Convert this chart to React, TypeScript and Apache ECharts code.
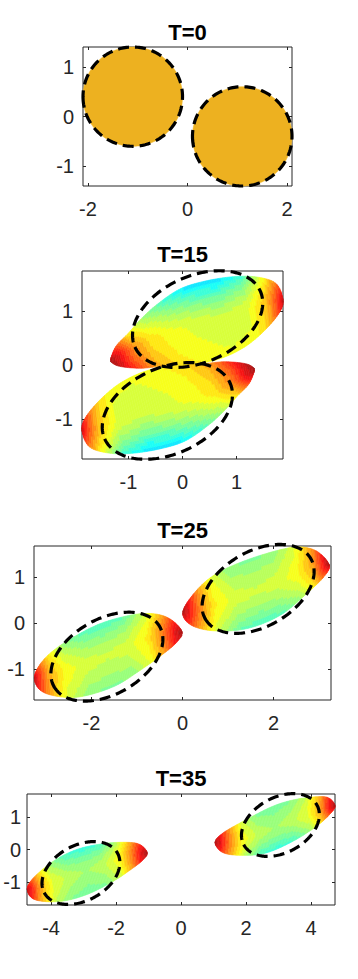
import React, { useEffect, useRef } from "react";
import * as echarts from "echarts";

type Pt = [number, number];

// ---------- DATA ----------
const panelTitles = ["T=0", "T=15", "T=25", "T=35"];
const xRanges: Pt[] = [[-2.1, 2.1], [-1.86, 1.86], [-3.26, 3.26], [-4.74, 4.74]];
const yRanges: Pt[] = [[-1.4, 1.4], [-1.74, 1.74], [-1.67, 1.67], [-1.7, 1.7]];
const xTickValues = [[-2, 0, 2], [-1, 0, 1], [-2, 0, 2], [-4, -2, 0, 2, 4]];
const yTickValues = [[-1, 0, 1], [-1, 0, 1], [-1, 0, 1], [-1, 0, 1]];

// T=0 discs: [cx, cy, r]
const initialDiscs = [[-1.1, 0.4, 1.0], [1.1, -0.4, 1.0]];

// dashed ellipses: [cx, cy, a, b, angleDeg]
const dashedT0 = [[-1.1, 0.4, 1.0, 1.0, 0], [1.1, -0.4, 1.0, 1.0, 0]];
const dashedT15 = [[0.28, 0.85, 1.27, 0.8, 24], [-0.28, -0.85, 1.27, 0.8, 24]];
const dashedT25 = [[1.66, 0.74, 1.33, 0.82, 29], [-1.66, -0.73, 1.33, 0.82, 29]];
const dashedT35 = [[3.06, 0.75, 1.28, 0.85, 28], [-3.08, -0.72, 1.28, 0.85, 28]];

// blob outlines: top and bottom chains, from left tip to right tip
const t15aTop: Pt[] = [[-1.33, 0.1], [-1.23, 0.35], [-1.01, 0.58], [-0.77, 0.85], [-0.46, 1.13], [-0.04, 1.41], [0.45, 1.56], [1.0, 1.64], [1.43, 1.62], [1.74, 1.5], [1.86, 1.2]];
const t15aBottom: Pt[] = [[-1.33, 0.1], [-1.29, 0.03], [-1.14, -0.03], [-0.77, -0.06], [-0.34, -0.02], [0.27, 0.02], [0.76, 0.14], [1.19, 0.36], [1.55, 0.67], [1.8, 0.98], [1.86, 1.2]];
const t15bTop: Pt[] = [[-1.86, -1.2], [-1.8, -0.98], [-1.55, -0.67], [-1.19, -0.36], [-0.76, -0.14], [-0.27, -0.02], [0.34, 0.02], [0.77, 0.06], [1.14, 0.03], [1.29, -0.03], [1.33, -0.1]];
const t15bBottom: Pt[] = [[-1.86, -1.2], [-1.74, -1.5], [-1.43, -1.62], [-1.0, -1.64], [-0.45, -1.56], [0.04, -1.41], [0.46, -1.13], [0.77, -0.85], [1.01, -0.58], [1.23, -0.35], [1.33, -0.1]];

const t25aTop: Pt[] = [[-3.25, -1.17], [-3.05, -0.8], [-2.61, -0.44], [-1.87, -0.04], [-1.14, 0.17], [-0.63, 0.2], [-0.26, 0.08], [-0.01, -0.19]];
const t25aBottom: Pt[] = [[-3.25, -1.17], [-3.12, -1.46], [-2.75, -1.59], [-2.24, -1.6], [-1.51, -1.38], [-0.92, -1.02], [-0.41, -0.66], [-0.12, -0.41], [-0.01, -0.19]];
const t25bTop: Pt[] = [[0.01, 0.25], [0.32, 0.72], [0.76, 1.08], [1.42, 1.37], [2.15, 1.59], [2.59, 1.65], [2.96, 1.55], [3.22, 1.26]];
const t25bBottom: Pt[] = [[0.01, 0.25], [0.18, -0.04], [0.69, -0.17], [1.42, -0.12], [2.15, 0.17], [2.74, 0.65], [3.11, 1.01], [3.22, 1.26]];

const t35aTop: Pt[] = [[-4.73, -1.23], [-4.54, -0.87], [-3.93, -0.36], [-3.21, 0.0], [-2.39, 0.18], [-1.67, 0.22], [-1.26, 0.15], [-1.04, -0.1]];
const t35aBottom: Pt[] = [[-4.73, -1.23], [-4.49, -1.54], [-3.72, -1.59], [-2.9, -1.38], [-2.08, -0.97], [-1.47, -0.56], [-1.16, -0.31], [-1.04, -0.1]];
const t35bTop: Pt[] = [[1.05, 0.21], [1.3, 0.51], [2.02, 0.92], [2.84, 1.33], [3.56, 1.54], [4.28, 1.62], [4.58, 1.56], [4.74, 1.33]];
const t35bBottom: Pt[] = [[1.05, 0.21], [1.3, -0.1], [1.92, -0.18], [2.64, -0.1], [3.46, 0.26], [4.18, 0.72], [4.58, 1.08], [4.74, 1.33]];

// field values (0..1 on jet colormap) along each blob, rows: bottom edge, middle, top edge
const uStops = [-1, -0.85, -0.7, -0.5, -0.25, 0, 0.25, 0.5, 0.7, 0.85, 1];
const fieldT15a = [
  [0.98, 0.93, 0.84, 0.72, 0.65, 0.63, 0.61, 0.61, 0.68, 0.82, 0.95],
  [0.98, 0.9, 0.77, 0.66, 0.61, 0.59, 0.57, 0.59, 0.69, 0.84, 0.97],
  [0.94, 0.8, 0.63, 0.52, 0.42, 0.34, 0.33, 0.42, 0.62, 0.8, 0.93],
];
const fieldT15b = [
  [0.93, 0.8, 0.62, 0.42, 0.33, 0.34, 0.42, 0.52, 0.63, 0.8, 0.94],
  [0.97, 0.84, 0.69, 0.59, 0.57, 0.59, 0.61, 0.66, 0.77, 0.9, 0.98],
  [0.95, 0.82, 0.68, 0.61, 0.61, 0.63, 0.65, 0.72, 0.84, 0.93, 0.98],
];
const fieldT25a = [
  [0.97, 0.87, 0.72, 0.58, 0.5, 0.49, 0.5, 0.6, 0.74, 0.88, 0.96],
  [0.98, 0.86, 0.71, 0.62, 0.58, 0.57, 0.58, 0.64, 0.77, 0.9, 0.98],
  [0.9, 0.78, 0.64, 0.52, 0.45, 0.43, 0.46, 0.57, 0.72, 0.86, 0.95],
];
const fieldT25b = [
  [0.95, 0.86, 0.72, 0.57, 0.46, 0.43, 0.45, 0.52, 0.64, 0.78, 0.9],
  [0.98, 0.9, 0.77, 0.64, 0.58, 0.57, 0.58, 0.62, 0.71, 0.86, 0.98],
  [0.96, 0.88, 0.74, 0.6, 0.5, 0.49, 0.5, 0.58, 0.72, 0.87, 0.97],
];
const fieldT35a = [
  [0.97, 0.86, 0.7, 0.56, 0.49, 0.47, 0.49, 0.58, 0.74, 0.88, 0.96],
  [0.98, 0.88, 0.72, 0.6, 0.55, 0.53, 0.55, 0.62, 0.76, 0.9, 0.98],
  [0.92, 0.8, 0.66, 0.52, 0.43, 0.41, 0.43, 0.55, 0.72, 0.86, 0.95],
];
const fieldT35b = [
  [0.95, 0.86, 0.72, 0.55, 0.43, 0.41, 0.43, 0.52, 0.66, 0.8, 0.92],
  [0.98, 0.9, 0.76, 0.62, 0.55, 0.53, 0.55, 0.6, 0.72, 0.88, 0.98],
  [0.96, 0.88, 0.74, 0.58, 0.49, 0.47, 0.49, 0.56, 0.7, 0.86, 0.97],
];

// ---------- STYLE / LAYOUT ----------
const discColor = "#EDB120";
const axisColor = "#262626";
const fontFamily = '"Liberation Sans", Arial, Helvetica, sans-serif';
const grids = [
  { left: 83, top: 47, width: 209, height: 139 },
  { left: 82, top: 271, width: 201, height: 188 },
  { left: 34, top: 546, width: 297, height: 154 },
  { left: 27, top: 794, width: 308, height: 111 },
];
const yLabelMargins = [9, 9, 9, 6];
const titlePos: Pt[] = [[187.5, 32], [182.5, 254], [182.5, 530], [181, 778]];
const N_COLS = 90;
const N_ROWS = 24;
const N_LEVELS = 30;
const WHITE_MIX = 0.08;
const EDGE_EXP = 1.4;

// ---------- helpers ----------
function catmullLoop(pts: Pt[], sub: number): Pt[] {
  const n = pts.length;
  const out: Pt[] = [];
  for (let i = 0; i < n; i++) {
    const p0 = pts[(i - 1 + n) % n], p1 = pts[i], p2 = pts[(i + 1) % n], p3 = pts[(i + 2) % n];
    for (let s = 0; s < sub; s++) {
      const t = s / sub, t2 = t * t, t3 = t2 * t;
      const f = (a: number, b: number, c: number, d: number) =>
        0.5 * (2 * b + (-a + c) * t + (2 * a - 5 * b + 4 * c - d) * t2 + (-a + 3 * b - 3 * c + d) * t3);
      out.push([f(p0[0], p1[0], p2[0], p3[0]), f(p0[1], p1[1], p2[1], p3[1])]);
    }
  }
  return out;
}

function resample(poly: Pt[], fr: number[]): Pt[] {
  const cum = [0];
  for (let i = 1; i < poly.length; i++) {
    cum.push(cum[i - 1] + Math.hypot(poly[i][0] - poly[i - 1][0], poly[i][1] - poly[i - 1][1]));
  }
  const L = cum[cum.length - 1];
  return fr.map((f) => {
    const s = f * L;
    let i = 1;
    while (i < cum.length - 1 && cum[i] < s) i++;
    const seg = cum[i] - cum[i - 1] || 1;
    const w = Math.max(0, Math.min(1, (s - cum[i - 1]) / seg));
    return [poly[i - 1][0] + (poly[i][0] - poly[i - 1][0]) * w, poly[i - 1][1] + (poly[i][1] - poly[i - 1][1]) * w] as Pt;
  });
}

function blobGeometry(top: Pt[], bottom: Pt[]) {
  const sub = 12;
  const loop = top.concat(bottom.slice(1, -1).reverse());
  const dense = catmullLoop(loop, sub);
  const iB = (top.length - 1) * sub;
  const denseTop = dense.slice(0, iB + 1);
  const denseBot = dense.slice(iB).concat([dense[0]]).reverse();
  const fr = Array.from({ length: N_COLS + 1 }, (_, k) => k / N_COLS);
  return { T: resample(denseTop, fr), B: resample(denseBot, fr) };
}

function interpField(field: number[][], u: number, v: number) {
  const row = (r: number[]) => {
    for (let i = 0; i < uStops.length - 1; i++) {
      if (u <= uStops[i + 1]) {
        const f = (u - uStops[i]) / (uStops[i + 1] - uStops[i]);
        return r[i] + (r[i + 1] - r[i]) * f;
      }
    }
    return r[r.length - 1];
  };
  const b = row(field[0]), m = row(field[1]), t = row(field[2]);
  const w = Math.pow(Math.abs(v), EDGE_EXP);
  return v < 0 ? m + (b - m) * w : m + (t - m) * w;
}

function jet(t: number) {
  const c = (x: number) => Math.max(0, Math.min(1, x));
  const r = c(1.5 - Math.abs(4 * t - 3));
  const g = c(1.5 - Math.abs(4 * t - 2));
  const b = c(1.5 - Math.abs(4 * t - 1));
  const m = (x: number) => Math.round((x * (1 - WHITE_MIX) + WHITE_MIX) * 255);
  return `rgb(${m(r)},${m(g)},${m(b)})`;
}

function levelColor(val: number) {
  const lvl = Math.max(0, Math.min(N_LEVELS - 1, Math.floor(val * N_LEVELS)));
  return jet((lvl + 0.5) / N_LEVELS);
}

type Blob = { top: Pt[]; bottom: Pt[]; field: number[][] };
const panelBlobs: (Blob[] | null)[] = [
  null,
  [
    { top: t15aTop, bottom: t15aBottom, field: fieldT15a },
    { top: t15bTop, bottom: t15bBottom, field: fieldT15b },
  ],
  [
    { top: t25aTop, bottom: t25aBottom, field: fieldT25a },
    { top: t25bTop, bottom: t25bBottom, field: fieldT25b },
  ],
  [
    { top: t35aTop, bottom: t35aBottom, field: fieldT35a },
    { top: t35bTop, bottom: t35bBottom, field: fieldT35b },
  ],
];
const panelDashed = [dashedT0, dashedT15, dashedT25, dashedT35];

function ellipsePoints(e: number[], api: any) {
  const [cx, cy, a, b, ang] = e;
  const th = (ang * Math.PI) / 180;
  const pts: number[][] = [];
  for (let i = 0; i < 200; i++) {
    const t = (i / 200) * 2 * Math.PI + Math.PI;
    const ex = a * Math.cos(t), ey = b * Math.sin(t);
    pts.push(api.coord([cx + ex * Math.cos(th) - ey * Math.sin(th), cy + ex * Math.sin(th) + ey * Math.cos(th)]));
  }
  return pts;
}

function buildOption() {
  const xAxis: any[] = [];
  const yAxis: any[] = [];
  const series: any[] = [];
  const labelStyle = { color: axisColor, fontSize: 20, fontFamily };
  const noLine = { show: false, onZero: false };

  grids.forEach((_, i) => {
    const tickBase = { show: true, inside: true, length: 3, lineStyle: { color: axisColor, width: 1 } };
    xAxis.push({
      gridIndex: i, type: "value", position: "bottom", min: xRanges[i][0], max: xRanges[i][1],
      axisLine: noLine, splitLine: { show: false },
      axisTick: { ...tickBase, customValues: xTickValues[i] },
      axisLabel: { ...labelStyle, margin: 13, customValues: xTickValues[i] },
    });
    xAxis.push({
      gridIndex: i, type: "value", position: "top", min: xRanges[i][0], max: xRanges[i][1],
      axisLine: noLine, splitLine: { show: false },
      axisTick: { ...tickBase, customValues: xTickValues[i] },
      axisLabel: { show: false },
    });
    yAxis.push({
      gridIndex: i, type: "value", position: "left", min: yRanges[i][0], max: yRanges[i][1],
      axisLine: noLine, splitLine: { show: false },
      axisTick: { ...tickBase, customValues: yTickValues[i] },
      axisLabel: { ...labelStyle, margin: yLabelMargins[i], customValues: yTickValues[i] },
    });
    yAxis.push({
      gridIndex: i, type: "value", position: "right", min: yRanges[i][0], max: yRanges[i][1],
      axisLine: noLine, splitLine: { show: false },
      axisTick: { ...tickBase, customValues: yTickValues[i] },
      axisLabel: { show: false },
    });

    const blobs = panelBlobs[i];
    if (blobs === null) {
      series.push({
        type: "custom", xAxisIndex: 2 * i, yAxisIndex: 2 * i, clip: false, silent: true, z: 2,
        data: initialDiscs.map((d) => [d[0], d[1], d[2]]),
        renderItem: (params: any, api: any) => {
          const d = initialDiscs[params.dataIndex];
          return {
            type: "polygon",
            shape: { points: ellipsePoints([d[0], d[1], d[2], d[2], 0], api) },
            style: { fill: discColor, stroke: discColor, lineWidth: 0.5 },
          };
        },
      });
    } else {
      const geos = blobs.map((b) => blobGeometry(b.top, b.bottom));
      series.push({
        type: "custom", xAxisIndex: 2 * i, yAxisIndex: 2 * i, clip: false, silent: true, z: 2,
        data: blobs.map((b) => [b.top[0][0], b.top[0][1]]),
        renderItem: (params: any, api: any) => {
          const blob = blobs[params.dataIndex];
          const { T, B } = geos[params.dataIndex];
          const P = (k: number, j: number) => {
            const f = j / N_ROWS;
            return api.coord([B[k][0] + (T[k][0] - B[k][0]) * f, B[k][1] + (T[k][1] - B[k][1]) * f]);
          };
          const children: any[] = [];
          for (let k = 0; k < N_COLS; k++) {
            const u = ((k + 0.5) / N_COLS) * 2 - 1;
            const colorAt = (j: number) => levelColor(interpField(blob.field, u, ((j + 0.5) / N_ROWS) * 2 - 1));
            let j0 = 0;
            let c0 = colorAt(0);
            for (let j = 1; j <= N_ROWS; j++) {
              const c = j < N_ROWS ? colorAt(j) : "";
              if (c !== c0) {
                children.push({
                  type: "polygon",
                  shape: { points: [P(k, j0), P(k + 1, j0), P(k + 1, j), P(k, j)] },
                  style: { fill: c0, stroke: c0, lineWidth: 0.6 },
                });
                j0 = j;
                c0 = c;
              }
            }
          }
          return { type: "group", children };
        },
      });
    }

    const dashed = panelDashed[i];
    series.push({
      type: "custom", xAxisIndex: 2 * i, yAxisIndex: 2 * i, clip: false, silent: true, z: 3,
      data: dashed.map((e) => [e[0], e[1]]),
      renderItem: (params: any, api: any) => ({
        type: "polygon",
        shape: { points: ellipsePoints(dashed[params.dataIndex], api) },
        style: { fill: "none", stroke: "#000", lineWidth: 3.2, lineDash: [11, 6] },
      }),
    });
  });

  const graphic = panelTitles.map((t, i) => ({
    type: "text",
    x: titlePos[i][0],
    y: titlePos[i][1],
    style: {
      text: t,
      fill: "#000",
      font: `bold 22px ${fontFamily}`,
      textAlign: "center",
      textVerticalAlign: "middle",
      align: "center",
      verticalAlign: "middle",
    },
  }));

  return {
    animation: false,
    backgroundColor: "#ffffff",
    grid: grids.map((g) => ({ ...g, show: true, borderColor: axisColor, borderWidth: 1, backgroundColor: "transparent" })),
    xAxis,
    yAxis,
    series,
    graphic,
  };
}

export default function App() {
  const ref = useRef<HTMLDivElement>(null);
  useEffect(() => {
    if (!ref.current) return;
    const chart = echarts.init(ref.current, undefined, { renderer: "svg" });
    chart.setOption(buildOption() as any);
    return () => chart.dispose();
  }, []);
  return (
    <div
      ref={ref}
      style={{ position: "absolute", left: 0, top: 0, width: 358, height: 979, background: "#fff" }}
    />
  );
}
